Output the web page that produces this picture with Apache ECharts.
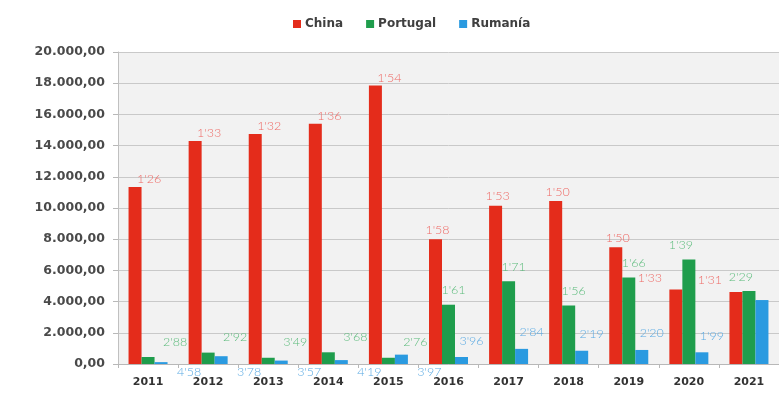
<!DOCTYPE html>
<html>
<head>
<meta charset="utf-8">
<script src="https://cdn.jsdelivr.net/npm/echarts@6/dist/echarts.min.js"></script>
<style>
  html, body { margin: 0; padding: 0; background: #fff; }
  #chart { width: 779px; height: 401px; }
</style>
</head>
<body>
<div id="chart"></div>
<script>
const years = ['2011', '2012', '2013', '2014', '2015', '2016', '2017', '2018', '2019', '2020', '2021']
const china = [11350, 14300, 14750, 15400, 17850, 8000, 10150, 10450, 7480, 4770, 4620]
const portugal = [450, 730, 400, 750, 400, 3800, 5300, 3750, 5550, 6700, 4680]
const rumania = [120, 500, 220, 250, 600, 450, 970, 850, 900, 750, 4100]
const chinaLabels = ["1'26", "1'33", "1'32", "1'36", "1'54", "1'58", "1'53", "1'50", "1'50", "1'33", "1'31"]
const portugalLabels = ["2'88", "2'92", "3'49", "3'68", "2'76", "1'61", "1'71", "1'56", "1'66", "1'39", "2'29"]
// the 2021 label is cut off in the source
const rumaniaLabels = ["4'58", "3'78", "3'57", "4'19", "3'97", "3'96", "2'84", "2'19", "2'20", "1'99", ""]
const yTicks = [0, 2000, 4000, 6000, 8000, 10000, 12000, 14000, 16000, 18000, 20000]

const labelFont = {
  fontFamily: 'Lato',
  fontSize: 12.5,
  fontWeight: 300
}

// labels in the original were dragged by hand: early years sit further right,
// the last two drift to the left
function items(values, texts, color, offs, earlyPos) {
  return values.map((v, i) => {
    const part = i < 5 ? 0 : (i < 9 ? 1 : 2)
    return {
      value: v,
      label: Object.assign({
        show: true,
        color: color,
        formatter: texts[i],
        position: part === 0 && earlyPos ? earlyPos : 'top',
        offset: offs[part]
      }, labelFont)
    }
  })
}

const chart = echarts.init(document.getElementById('chart'))

chart.setOption({
  animation: false,
  legend: {
    top: 13,
    left: 288,
    itemWidth: 8,
    itemHeight: 8,
    itemGap: 23,
    icon: 'rect',
    textStyle: {
      fontFamily: 'DejaVu Sans',
      fontWeight: 'bold',
      fontSize: 12,
      color: '#404040',
      padding: [0, 0, 0, -1]
    },
    data: ['China', 'Portugal', 'Rumanía']
  },
  grid: {
    left: 118,
    top: 52,
    width: 669,
    height: 312,
    show: true,
    backgroundColor: '#f2f2f2',
    borderWidth: 0
  },
  xAxis: {
    type: 'category',
    data: years,
    axisLine: { lineStyle: { color: '#b8b8b8' } },
    axisTick: { show: true, length: 4, lineStyle: { color: '#b8b8b8' } },
    axisLabel: {
      margin: 13,
      fontFamily: 'DejaVu Sans',
      fontWeight: 'bold',
      fontSize: 11,
      color: '#333'
    }
  },
  yAxis: {
    type: 'value',
    min: 0,
    max: 20000,
    interval: 2000,
    axisLine: { show: true, lineStyle: { color: '#c0c0c0' } },
    axisTick: { show: true, length: 5, lineStyle: { color: '#b8b8b8' } },
    splitLine: { lineStyle: { color: '#c9c9c9' } },
    axisLabel: {
      margin: 13,
      fontFamily: 'DejaVu Sans',
      fontWeight: 'bold',
      fontSize: 12.5,
      color: '#4a4a4a',
      formatter: v => {
        if (yTicks.indexOf(v) < 0) return ''
        return v.toLocaleString('de-DE') + ',00'
      }
    }
  },
  series: [{
    name: 'China',
    type: 'bar',
    barWidth: 13,
    barGap: '0%',
    itemStyle: { color: '#e42c1b' },
    data: items(china, chinaLabels, '#ee6a66', [[14, 4], [2, 2], [-26, 0]])
  }, {
    name: 'Portugal',
    type: 'bar',
    barWidth: 13,
    barGap: '0%',
    itemStyle: { color: '#1f9d4c' },
    data: items(portugal, portugalLabels, '#5bbb7b', [[27, -4], [5, -3], [-8, -3]])
  }, {
    name: 'Rumanía',
    type: 'bar',
    barWidth: 13,
    barGap: '0%',
    itemStyle: { color: '#2a9ae0' },
    data: items(rumania, rumaniaLabels, '#5aaae3', [[28, -4], [10, -5], [10, -5]], 'bottom')
  }]
})
</script>
</body>
</html>
